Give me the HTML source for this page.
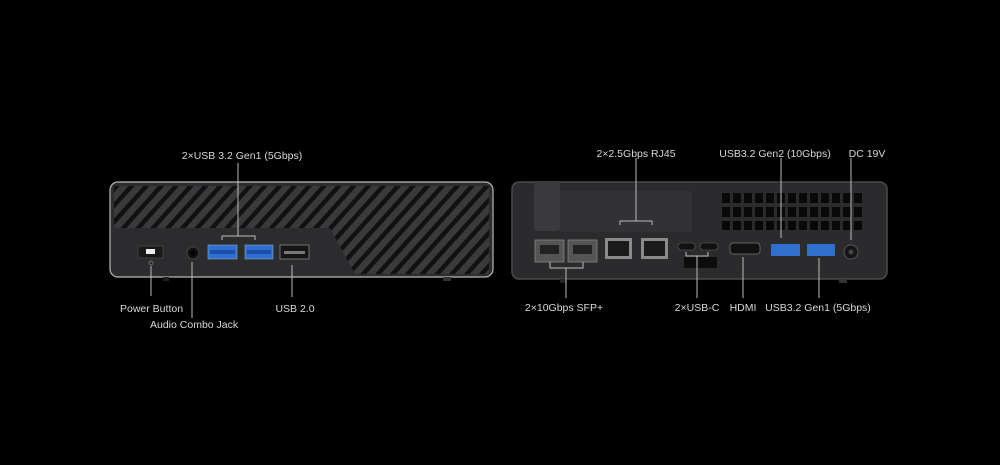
<!DOCTYPE html>
<html><head><meta charset="utf-8"><style>
html,body{margin:0;padding:0;background:#000;}
svg{display:block}
text{font-family:"Liberation Sans",sans-serif;font-size:10.5px;fill:#d8d8d8}
</style></head><body>
<svg width="1000" height="465" viewBox="0 0 1000 465" xmlns="http://www.w3.org/2000/svg">
<defs>
<pattern id="diag" patternUnits="userSpaceOnUse" width="11" height="11" patternTransform="rotate(42)">
<rect width="11" height="11" fill="#3a3a3c"/>
<rect x="0" y="0" width="4.5" height="11" fill="#111112"/>
</pattern>
<clipPath id="vc"><polygon points="114,186 489,186 489,274 355,274 330,228 114,228"/></clipPath>
</defs>
<rect width="1000" height="465" fill="#000"/>
<!-- LEFT DEVICE -->
<rect x="110" y="182" width="383" height="95" rx="8" fill="#2c2c2e" stroke="#b8b8b8" stroke-width="1.2"/>
<rect x="114" y="186" width="375" height="88" fill="url(#diag)" clip-path="url(#vc)"/>
<rect x="138" y="246" width="25" height="12" fill="#1a1a1a" stroke="#555" stroke-width="0.6"/>
<rect x="146" y="249" width="9" height="5" fill="#eee"/>
<circle cx="151" cy="263" r="2" fill="none" stroke="#888" stroke-width="0.7"/>
<circle cx="193" cy="253" r="6" fill="#111" stroke="#444"/>
<circle cx="193" cy="253" r="2.5" fill="#000"/>
<rect x="208" y="245" width="29" height="14" fill="#2f6fd0" stroke="#8ab" stroke-width="0.6"/>
<rect x="210" y="250" width="25" height="4" fill="#1b4fa8"/>
<rect x="245" y="245" width="28" height="14" fill="#2f6fd0" stroke="#8ab" stroke-width="0.6"/>
<rect x="247" y="250" width="24" height="4" fill="#1b4fa8"/>
<rect x="280" y="245" width="29" height="14" fill="#151515" stroke="#888" stroke-width="0.8"/>
<rect x="284" y="251" width="21" height="3" fill="#777"/>
<rect x="163" y="277" width="6" height="4" fill="#222"/>
<rect x="443" y="277" width="8" height="4" fill="#333"/>
<!-- RIGHT DEVICE -->
<rect x="512" y="182" width="375" height="97" rx="7" fill="#2b2b2d" stroke="#4a4a4c" stroke-width="1.5"/>
<rect x="560" y="191" width="132" height="41" fill="#323234"/>
<rect x="534" y="182" width="26" height="49" rx="3" fill="#3a3a3c"/>
<!-- vent grid -->
<g fill="#090909">
<rect x="722" y="193" width="8" height="10"/><rect x="733" y="193" width="8" height="10"/><rect x="744" y="193" width="8" height="10"/><rect x="755" y="193" width="8" height="10"/><rect x="766" y="193" width="8" height="10"/><rect x="777" y="193" width="8" height="10"/><rect x="788" y="193" width="8" height="10"/><rect x="799" y="193" width="8" height="10"/><rect x="810" y="193" width="8" height="10"/><rect x="821" y="193" width="8" height="10"/><rect x="832" y="193" width="8" height="10"/><rect x="843" y="193" width="8" height="10"/><rect x="854" y="193" width="8" height="10"/>
<rect x="722" y="207" width="8" height="10"/><rect x="733" y="207" width="8" height="10"/><rect x="744" y="207" width="8" height="10"/><rect x="755" y="207" width="8" height="10"/><rect x="766" y="207" width="8" height="10"/><rect x="777" y="207" width="8" height="10"/><rect x="788" y="207" width="8" height="10"/><rect x="799" y="207" width="8" height="10"/><rect x="810" y="207" width="8" height="10"/><rect x="821" y="207" width="8" height="10"/><rect x="832" y="207" width="8" height="10"/><rect x="843" y="207" width="8" height="10"/><rect x="854" y="207" width="8" height="10"/>
<rect x="722" y="221" width="8" height="9"/><rect x="733" y="221" width="8" height="9"/><rect x="744" y="221" width="8" height="9"/><rect x="755" y="221" width="8" height="9"/><rect x="766" y="221" width="8" height="9"/><rect x="777" y="221" width="8" height="9"/><rect x="788" y="221" width="8" height="9"/><rect x="799" y="221" width="8" height="9"/><rect x="810" y="221" width="8" height="9"/><rect x="821" y="221" width="8" height="9"/><rect x="832" y="221" width="8" height="9"/><rect x="843" y="221" width="8" height="9"/><rect x="854" y="221" width="8" height="9"/>
</g>
<!-- SFP -->
<rect x="535" y="240" width="29" height="22" fill="#555" stroke="#888" stroke-width="0.8"/>
<rect x="540" y="245" width="19" height="9" fill="#222"/>
<rect x="568" y="240" width="29" height="22" fill="#555" stroke="#888" stroke-width="0.8"/>
<rect x="573" y="245" width="19" height="9" fill="#222"/>
<!-- RJ45 -->
<rect x="605" y="238" width="27" height="21" fill="#8a8a8a"/>
<rect x="608" y="241" width="21" height="15" fill="#1a1a1a"/>
<rect x="641" y="238" width="27" height="21" fill="#8a8a8a"/>
<rect x="644" y="241" width="21" height="15" fill="#1a1a1a"/>
<!-- USB-C -->
<rect x="678" y="243" width="17" height="7" rx="3" fill="#111" stroke="#666" stroke-width="0.6"/>
<rect x="700" y="243" width="18" height="7" rx="3" fill="#111" stroke="#666" stroke-width="0.6"/>
<rect x="684" y="257" width="33" height="11" fill="#0d0d0d"/>
<!-- HDMI -->
<rect x="730" y="243" width="30" height="11" rx="3" fill="#111" stroke="#777" stroke-width="0.8"/>
<!-- USB -->
<rect x="771" y="244" width="29" height="12" fill="#2f6fd0"/>
<rect x="807" y="244" width="28" height="12" fill="#2f6fd0"/>
<circle cx="851" cy="252" r="7" fill="#151515" stroke="#555"/>
<circle cx="851" cy="252" r="2.5" fill="#444"/>
<rect x="560" y="279" width="6" height="4" fill="#222"/>
<rect x="839" y="279" width="8" height="4" fill="#333"/>
<!-- lines -->
<g stroke="#bbb" stroke-width="1" fill="none">
<path d="M238 163V236M222 240V236H255V240"/>
<path d="M151 266V296"/>
<path d="M192 262V318"/>
<path d="M292 265V297"/>
<path d="M636 158V221M620 225V221H652V225"/>
<path d="M781 158V238"/>
<path d="M851 158V240"/>
<path d="M550 262V268H583V262M566 268V298"/>
<path d="M686 252V256H708V252M697 256V298"/>
<path d="M743 257V298"/>
<path d="M819 258V298"/>
</g>
<text x="242" y="159" text-anchor="middle">2×USB 3.2 Gen1 (5Gbps)</text>
<text x="120" y="312">Power Button</text>
<text x="150" y="328">Audio Combo Jack</text>
<text x="295" y="312" text-anchor="middle">USB 2.0</text>
<text x="636" y="157" text-anchor="middle">2×2.5Gbps RJ45</text>
<text x="775" y="157" text-anchor="middle">USB3.2 Gen2 (10Gbps)</text>
<text x="867" y="157" text-anchor="middle">DC 19V</text>
<text x="564" y="311" text-anchor="middle">2×10Gbps SFP+</text>
<text x="697" y="311" text-anchor="middle">2×USB-C</text>
<text x="743" y="311" text-anchor="middle">HDMI</text>
<text x="818" y="311" text-anchor="middle">USB3.2 Gen1 (5Gbps)</text>
</svg>
</body></html>
